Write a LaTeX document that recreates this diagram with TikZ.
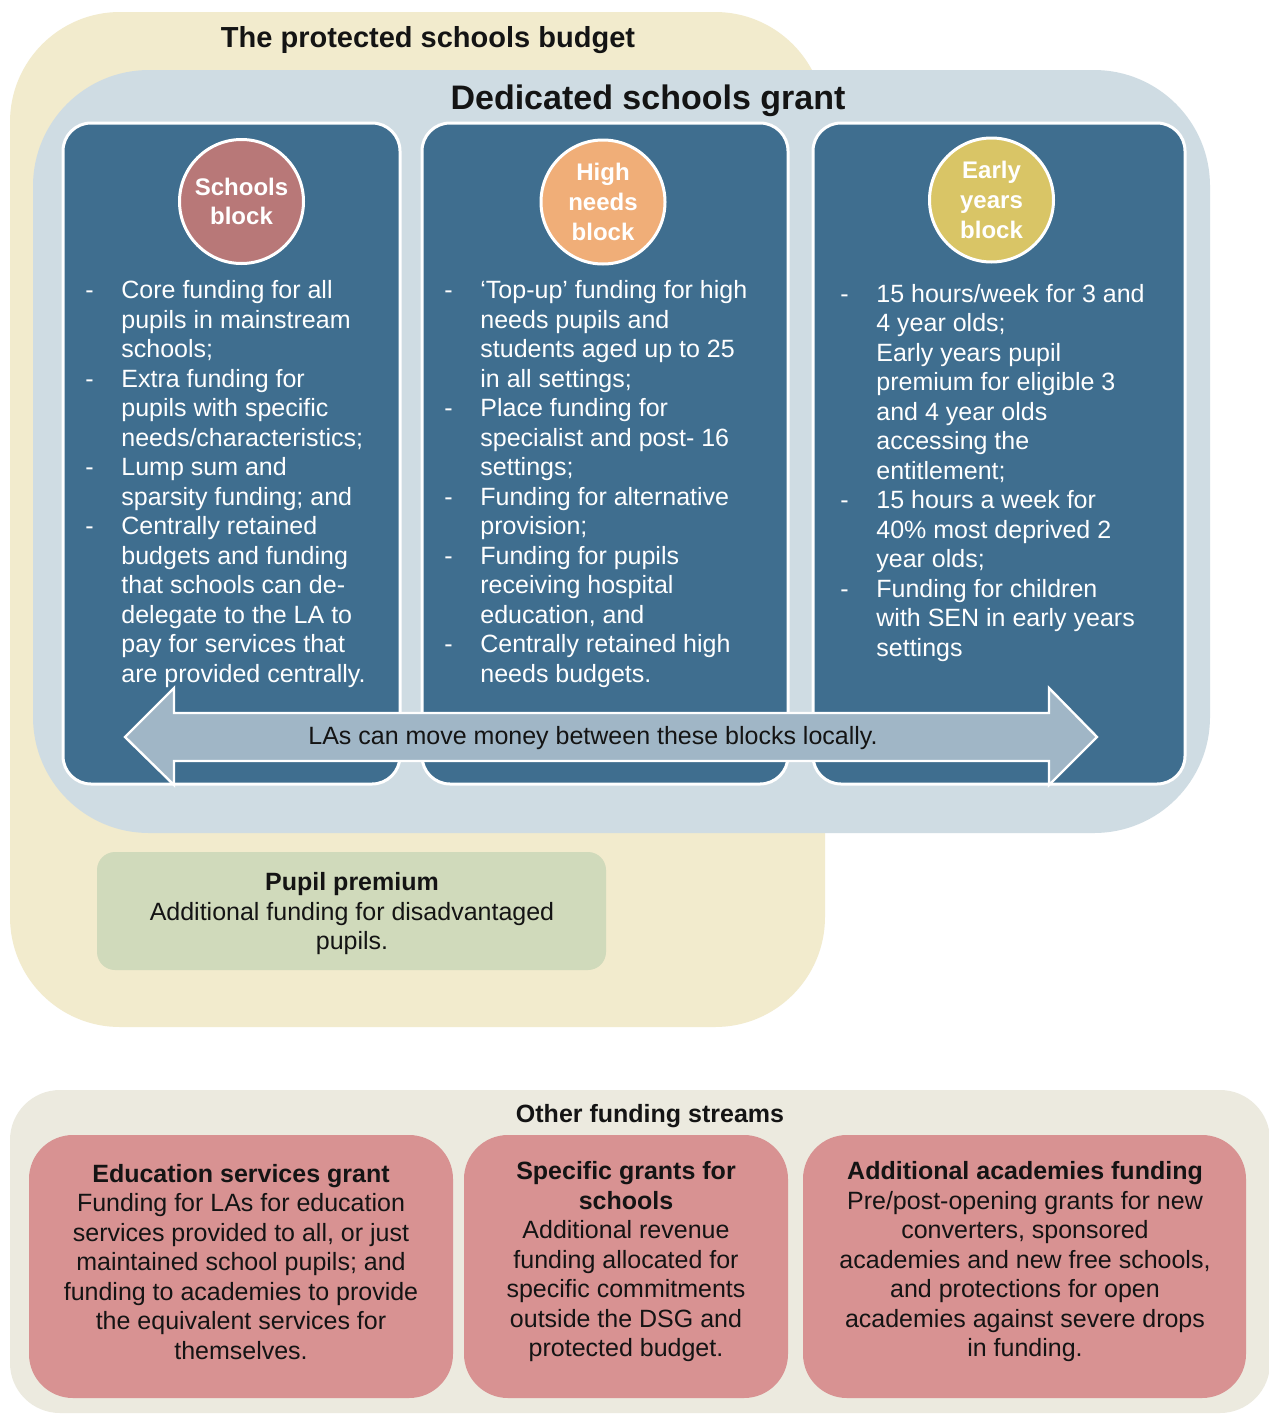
\documentclass[tikz,border=0pt]{standalone}
\usepackage{fontspec}
\setmainfont{Liberation Sans}
\definecolor{creambg}{HTML}{F2EBCD}
\definecolor{dsgbg}{HTML}{CFDCE3}
\definecolor{panelbg}{HTML}{3F6E8F}
\definecolor{arrowbg}{HTML}{A0B6C6}
\definecolor{schoolc}{HTML}{B87878}
\definecolor{highc}{HTML}{F0AE78}
\definecolor{earlyc}{HTML}{D9C566}
\definecolor{pupilbg}{HTML}{D0DABB}
\definecolor{otherbg}{HTML}{ECEADF}
\definecolor{redbox}{HTML}{D89292}
\definecolor{txt}{HTML}{141414}
\newcommand\myDash[1]{\makebox[18pt][l]{-}#1}
\newcommand\myCont[1]{\hspace*{18pt}#1}
\begin{document}
\begin{tikzpicture}[x=0.5pt,y=-0.5pt,
  every node/.style={inner sep=0pt, text=txt},
  panelbox/.style={fill=panelbg, draw=white, line width=1.5pt, rounded corners=14pt},
  redbx/.style={fill=redbox, rounded corners=22pt},
  bodyw/.style={font=\fontsize{12.5pt}{14.75pt}\selectfont, text=white, align=left, anchor=west},
  bodyc/.style={font=\fontsize{12.5pt}{14.75pt}\selectfont, align=center},
  blockc/.style={circle, draw=white, line width=1.5pt, minimum size=62pt, text=white,
     font=\bfseries\fontsize{12pt}{14.9pt}\selectfont, align=center}
]
\useasboundingbox (0,0) rectangle (1269,1414);
\fill[white] (0,0) rectangle (1269,1414);
% protected budget
\fill[creambg, rounded corners=55pt] (10,12) rectangle (825,1027);
% DSG
\fill[dsgbg, rounded corners=58pt] (33,70) rectangle (1210,833);
% panels
\draw[panelbox] (63,123) rectangle (400,784);
\draw[panelbox] (422,123) rectangle (788,784);
\draw[panelbox] (813,123) rectangle (1185,784);
% arrow
\draw[fill=arrowbg, draw=white, line width=1.2pt, line join=miter]
  (125,737) -- (174,688) -- (174,713) -- (1049,713) -- (1049,688) -- (1097,737)
  -- (1049,785) -- (1049,761) -- (174,761) -- (174,785) -- cycle;
\node[bodyc] (arrowtxt) at (593,738) {LAs can move money between these blocks locally.};
% titles
\node[font=\bfseries\fontsize{14.5pt}{17pt}\selectfont] (tpsb) at (428,40) {The protected schools budget};
\node[font=\bfseries\fontsize{17pt}{20pt}\selectfont] (dsg) at (648,101) {Dedicated schools grant};
% circles
\node[blockc, fill=schoolc] (sb) at (241.5,201.5) {Schools\\block};
\node[blockc, fill=highc] (hn) at (603,202) {High\\needs\\block};
\node[blockc, fill=earlyc] (ey) at (991.5,200) {Early\\years\\block};
% panel texts
\node[bodyw] (t1) at (85,484) {\myDash{Core funding for all}\\
\myCont{pupils in mainstream}\\
\myCont{schools;}\\
\myDash{Extra funding for}\\
\myCont{pupils with specific}\\
\myCont{needs/characteristics;}\\
\myDash{Lump sum and}\\
\myCont{sparsity funding; and}\\
\myDash{Centrally retained}\\
\myCont{budgets and funding}\\
\myCont{that schools can de-}\\
\myCont{delegate to the LA to}\\
\myCont{pay for services that}\\
\myCont{are provided centrally.}};
\node[bodyw] (t2) at (444,484) {\myDash{‘Top-up’ funding for high}\\
\myCont{needs pupils and}\\
\myCont{students aged up to 25}\\
\myCont{in all settings;}\\
\myDash{Place funding for}\\
\myCont{specialist and post- 16}\\
\myCont{settings;}\\
\myDash{Funding for alternative}\\
\myCont{provision;}\\
\myDash{Funding for pupils}\\
\myCont{receiving hospital}\\
\myCont{education, and}\\
\myDash{Centrally retained high}\\
\myCont{needs budgets.}};
\node[bodyw] (t3) at (840,473) {\myDash{15 hours/week for 3 and}\\
\myCont{4 year olds;}\\
\myCont{Early years pupil}\\
\myCont{premium for eligible 3}\\
\myCont{and 4 year olds}\\
\myCont{accessing the}\\
\myCont{entitlement;}\\
\myDash{15 hours a week for}\\
\myCont{40\% most deprived 2}\\
\myCont{year olds;}\\
\myDash{Funding for children}\\
\myCont{with SEN in early years}\\
\myCont{settings}};
% pupil premium
\fill[pupilbg, rounded corners=9pt] (97,852) rectangle (606,970);
\node[bodyc] (pp) at (352,914) {\textbf{Pupil premium}\\Additional funding for disadvantaged\\pupils.};
% other funding streams
\fill[otherbg, rounded corners=25pt] (10,1090) rectangle (1270,1413);
\node[font=\bfseries\fontsize{12.5pt}{14.75pt}\selectfont] (ofs) at (650,1116) {Other funding streams};
\fill[redbx] (29,1135) rectangle (453,1398);
\fill[redbx] (464,1135) rectangle (788,1398);
\fill[redbx] (803,1135) rectangle (1246,1398);
\node[bodyc] (esg) at (241,1262) {\textbf{Education services grant}\\
Funding for LAs for education\\
services provided to all, or just\\
maintained school pupils; and\\
funding to academies to provide\\
the equivalent services for\\
themselves.};
\node[bodyc] (sgs) at (626,1262) {\textbf{Specific grants for}\\
\textbf{schools}\\
Additional revenue\\
funding allocated for\\
specific commitments\\
outside the DSG and\\
protected budget.};
\node[bodyc] (aaf) at (1025,1262) {\textbf{Additional academies funding}\\
Pre/post-opening grants for new\\
converters, sponsored\\
academies and new free schools,\\
and protections for open\\
academies against severe drops\\
in funding.};
\end{tikzpicture}
\end{document}
